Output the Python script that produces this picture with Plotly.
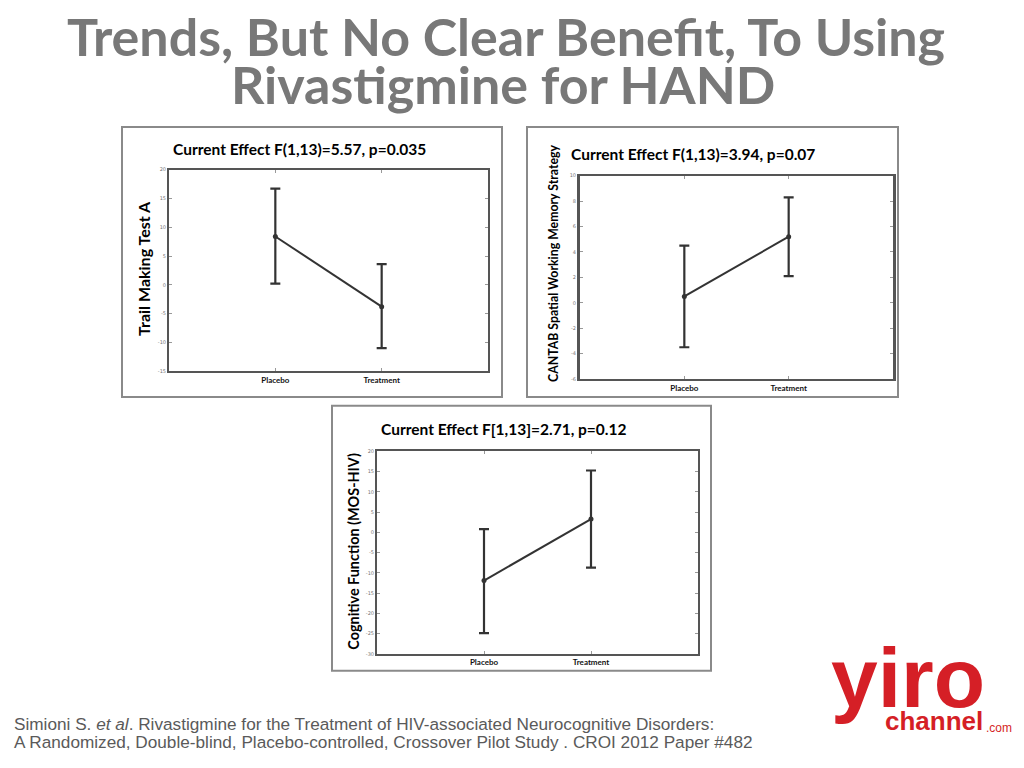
import plotly.graph_objects as go

# page body has an 8px margin; figure fills the rest of the 1024x768 window
OFF = 8
W, H = 1024 - 2 * OFF, 768 - 2 * OFF

# ---------------- data ----------------
categories = ["Placebo", "Treatment"]
cat_pos = [1, 2]

# Panel 1: Trail Making Test A
tmt_mean = [8.4, -3.8]
tmt_upper = [16.7, 3.6]
tmt_lower = [0.2, -11.0]
tmt_ticks = [20, 15, 10, 5, 0, -5, -10, -15]

# Panel 2: CANTAB Spatial Working Memory Strategy
swm_mean = [0.5, 5.2]
swm_upper = [4.5, 8.3]
swm_lower = [-3.5, 2.1]
swm_ticks = [10, 8, 6, 4, 2, 0, -2, -4, -6]

# Panel 3: Cognitive Function (MOS-HIV)
cog_mean = [-11.9, 3.3]
cog_upper = [0.8, 15.3]
cog_lower = [-24.9, -8.7]
cog_ticks = [20, 15, 10, 5, 0, -5, -10, -15, -20, -25, -30]

titles = [
    "Current Effect F(1,13)=5.57, p=0.035",
    "Current Effect F(1,13)=3.94, p=0.07",
    "Current Effect F[1,13]=2.71, p=0.12",
]
ytitles = [
    "Trail Making Test A",
    "CANTAB Spatial Working Memory Strategy",
    "Cognitive Function (MOS-HIV)",
]

FONT = "Lato"
LINE = "#333333"


def px_x(v):
    return (v - OFF) / W


def px_y(v):
    return 1 - (v - OFF) / H


fig = go.Figure()

panels = [
    # (mean, upper, lower, ticks, plot area px x0,x1,y0,y1)
    (tmt_mean, tmt_upper, tmt_lower, tmt_ticks, (169, 488, 168, 371)),
    (swm_mean, swm_upper, swm_lower, swm_ticks, (580, 893, 174, 379)),
    (cog_mean, cog_upper, cog_lower, cog_ticks, (377, 698, 452, 656)),
]

for i, (m, up, lo, ticks, box) in enumerate(panels):
    n = "" if i == 0 else str(i + 1)
    err_plus = [u - a for u, a in zip(up, m)]
    err_minus = [a - l for a, l in zip(m, lo)]
    fig.add_trace(go.Scatter(
        x=cat_pos, y=m, mode="lines+markers",
        line=dict(color=LINE, width=2),
        marker=dict(color=LINE, size=5),
        error_y=dict(type="data", symmetric=False, array=err_plus,
                     arrayminus=err_minus, color=LINE, thickness=2.2, width=5),
        xaxis="x" + n, yaxis="y" + n, showlegend=False, hoverinfo="skip",
    ))
    x0, x1, y0, y1 = box
    fig.layout["xaxis" + n] = dict(
        domain=[px_x(x0), px_x(x1)], range=[0, 3], anchor="y" + n,
        tickvals=cat_pos, ticktext=["<b>%s</b>" % c for c in categories],
        tickfont=dict(family=FONT, size=8, color="#111"),
        showline=True, mirror="ticks", linecolor="#555", linewidth=2,
        ticks="inside", ticklen=3, tickcolor="#999", showgrid=False,
        zeroline=False, fixedrange=True,
    )
    fig.layout["yaxis" + n] = dict(
        domain=[px_y(y1), px_y(y0)], range=[ticks[-1], ticks[0]],
        anchor="x" + n, tickvals=ticks, ticktext=[str(t) for t in ticks],
        tickfont=dict(family="DejaVu Sans", size=5, color="#777"),
        showline=True, mirror="ticks", linecolor="#555",
        linewidth=3 if i == 1 else 2,
        ticks="inside", ticklen=3, tickcolor="#999", showgrid=False,
        zeroline=False, fixedrange=True,
    )

# outer panel frames
frames = [(122, 125, 502, 397), (527, 125, 898, 397), (332, 406, 711, 673)]
shapes = []
for (a, b, c, d) in frames:
    shapes.append(dict(type="rect", xref="paper", yref="paper",
                       x0=px_x(a), x1=px_x(c), y0=px_y(d), y1=px_y(b),
                       line=dict(color="#8a8a8a", width=2)))

annotations = []


def ann(text, x, y, size, family=FONT, color="#000", xanchor="center",
        angle=0):
    annotations.append(dict(
        text=text, x=px_x(x), y=px_y(y), xref="paper", yref="paper",
        xanchor=xanchor, yanchor="middle", showarrow=False, textangle=angle,
        font=dict(family=family, size=size, color=color)))


# slide title (two lines)
TITLE_C = "#787878"
ann("<b>Trends, But No Clear Benefit, To Using</b>", 506, 33, 52, color=TITLE_C)
ann("<b>Rivastigmine for HAND</b>", 503, 82, 52, color=TITLE_C)

# panel titles
title_pos = [(171, 147), (569, 152), (379, 429)]
for t, (x, y) in zip(titles, title_pos):
    ann("<b>%s</b>" % t, x, y, 15.5, xanchor="left")

# y-axis titles
ytitle_pos = [(144, 268, 16), (554, 262, 12.3), (354, 553, 14.4)]
for t, (x, y, s) in zip(ytitles, ytitle_pos):
    ann("<b>%s</b>" % t, x, y, s, angle=-90)

# citation
CIT = "#5a5a5a"
ann("Simioni S. <i>et al</i>. Rivastigmine for the Treatment of HIV-associated Neurocognitive Disorders:",
    12, 727, 17.2, family="Liberation Sans", color=CIT, xanchor="left")
ann("A Randomized, Double-blind, Placebo-controlled, Crossover Pilot Study . CROI 2012 Paper #482",
    12, 745, 17.2, family="Liberation Sans", color=CIT, xanchor="left")

# logo text
RED = "#d51f26"
ann("<b>yiro</b>", 908, 680, 84, family="Liberation Sans", color=RED)
ann("<b>channel</b>", 934, 724, 26, family="Liberation Sans", color=RED)
ann(".com", 984, 731, 12, family="Liberation Sans", color=RED, xanchor="left")

fig.update_layout(
    width=W, height=H, margin=dict(l=0, r=0, t=0, b=0),
    paper_bgcolor="white", plot_bgcolor="white",
    shapes=shapes, annotations=annotations, showlegend=False,
)

fig.write_html("out.html")
